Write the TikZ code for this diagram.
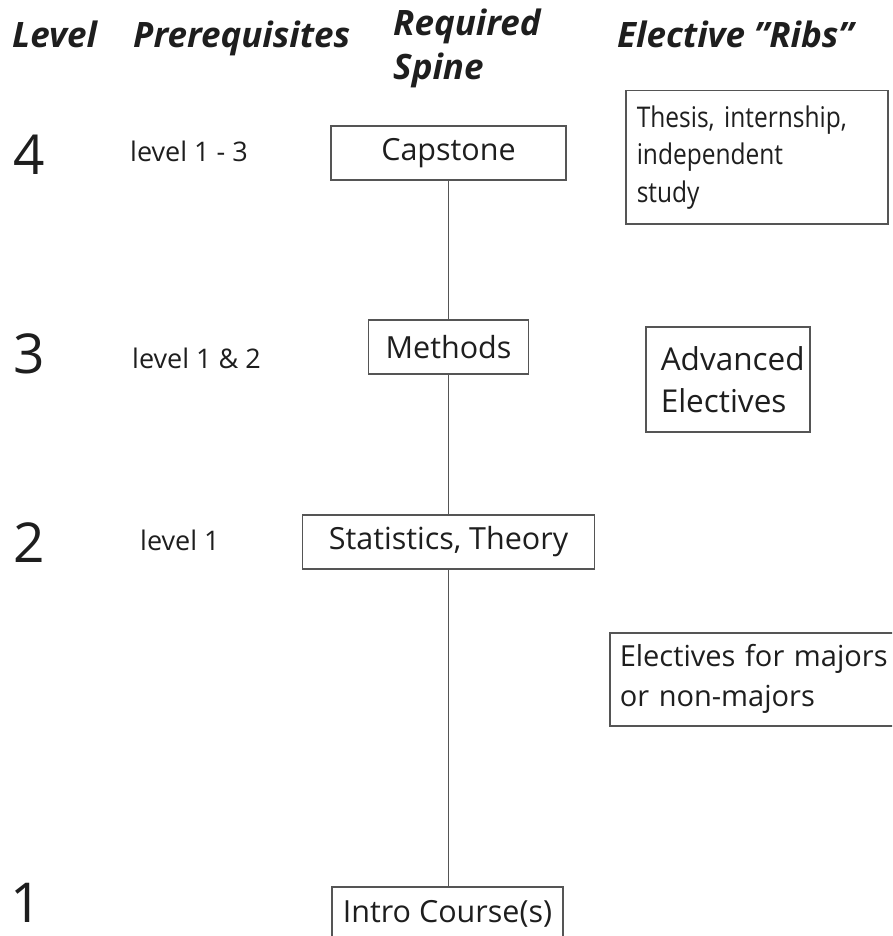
\documentclass[tikz,border=0pt]{standalone}
\usepackage{fontspec}
\setmainfont{Open Sans}
\newfontfamily\narrowsans{Open Sans}[FakeStretch=0.86]
\definecolor{ink}{HTML}{1E1E1E}
\definecolor{edge}{HTML}{555555}
\tikzset{
  hdr/.style={anchor=base west, inner sep=0pt, text=ink, font=\fontsize{35}{40}\selectfont\bfseries\itshape},
  lvl/.style={anchor=base west, inner sep=0pt, text=ink, font=\fontsize{55}{60}\selectfont},
  pre/.style={anchor=base west, inner sep=0pt, text=ink, font=\fontsize{27}{30}\selectfont},
  spinebox/.style={draw=edge, line width=1.5pt, fill=white, text=ink, inner sep=0pt,
    font=\fontsize{30.5}{36}\selectfont},
  ribbox/.style={draw=edge, line width=1.5pt, fill=white, text=ink, align=left, anchor=north west},
  spineline/.style={draw=edge, line width=1.4pt}
}
\begin{document}
\begin{tikzpicture}[x=1pt,y=-1pt]
\useasboundingbox (0,0) rectangle (892,936);
\clip (0,0) rectangle (892,936);
% headers
\node[hdr] (hlevel) at (12,48) {Level};
\node[hdr] (hpre) at (133,48) {Prerequisites};
\node[hdr] (hreq) at (393,36) {Required};
\node[hdr] (hspine) at (393,80) {Spine};
\node[hdr] (hrib) at (617,48) {Elective \char34 Ribs\char34};
% level numbers
\node[lvl] (l4) at (13,175) {4};
\node[lvl] (l3) at (13,373) {3};
\node[lvl] (l2) at (13,562) {2};
\node[lvl] (l1) at (10,922) {1};
% prerequisites
\node[pre] (p4) at (130,162) {level 1 - 3};
\node[pre] (p3) at (132,368) {level 1 \& 2};
\node[pre] (p2) at (140,550) {level 1};
% spine boxes
\node[spinebox, minimum width=235pt, minimum height=54pt] (cap) at (448.5,153) {Capstone};
\node[spinebox, minimum width=160pt, minimum height=54pt] (meth) at (448.5,347) {Methods};
\node[spinebox, minimum width=292pt, minimum height=54pt] (stat) at (448.5,542) {Statistics, Theory};
\node[spinebox, minimum width=231pt, minimum height=54pt] (intro) at (447.5,914) {Intro Course(s)};
% spine connectors
\draw[spineline] (cap) -- (meth);
\draw[spineline] (meth) -- (stat);
\draw[spineline] (stat) -- (intro.north -| stat.south);
% rib boxes
\node[ribbox, font=\narrowsans\fontsize{28.5}{37.5}\selectfont, text width=240pt, inner xsep=11pt,
  minimum height=133pt] (thesis) at (625,90) {Thesis, internship,\\independent\\study};
\node[ribbox, font=\fontsize{31.5}{42}\selectfont, text width=134pt, inner xsep=15pt,
  minimum height=105pt] (adv) at (645,326) {Advanced\\Electives};
\node[ribbox, font=\fontsize{29}{40}\selectfont, text width=273pt, inner xsep=10pt,
  minimum height=93pt] (elec) at (609,632) {Electives for majors\\or non-majors};
\end{tikzpicture}
\end{document}
